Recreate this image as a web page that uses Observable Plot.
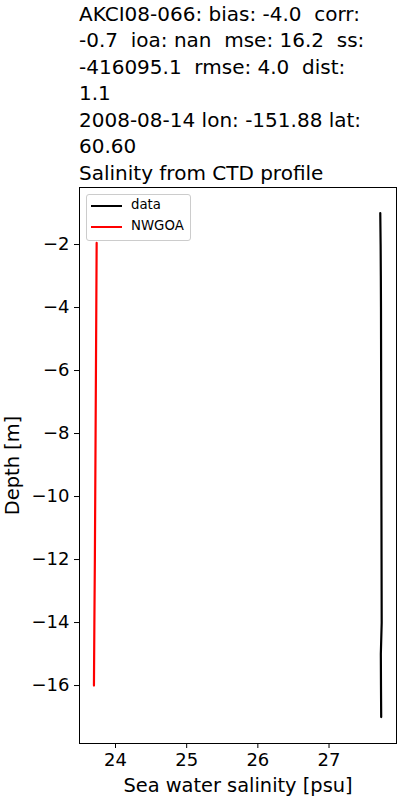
<!DOCTYPE html>
<html>
<head>
<meta charset="utf-8">
<script src="https://cdn.jsdelivr.net/npm/d3@7"></script>
<script src="https://cdn.jsdelivr.net/npm/@observablehq/plot@0.6"></script>
<style>
  html, body { margin: 0; padding: 0; background: #fff; }
  body { width: 400px; height: 800px; position: relative; overflow: hidden; font-family: "DejaVu Sans", sans-serif; }
  #title { position: absolute; left: 79px; top: 0.5px; font-size: 20px; line-height: 26.5px; white-space: pre; color: #000; z-index: 2; }
  #chart { position: absolute; left: 0; top: 177px; z-index: 1; }
  #legend { position: absolute; left: 86px; top: 194px; width: 105px; height: 47px; border: 1px solid #cccccc; border-radius: 3px; background: rgba(255,255,255,0.8); box-sizing: border-box; font-size: 13.3px; z-index: 3; }
  .row { position: absolute; left: 0; height: 16px; }
  .swatch { position: absolute; left: 4px; width: 31px; height: 2px; top: 7px; }
  .lbl { position: absolute; left: 44px; top: -1px; white-space: pre; }
</style>
</head>
<body>
<div id="title"></div>
<div id="chart"></div>
<div id="legend"></div>
<script>
// ---- data ----
const titleLines = [
  "AKCI08-066: bias: -4.0  corr:",
  "-0.7  ioa: nan  mse: 16.2  ss:",
  "-416095.1  rmse: 4.0  dist:",
  "1.1",
  "2008-08-14 lon: -151.88 lat:",
  "60.60",
  "Salinity from CTD profile"
];
const dataDepth = [-1, -2, -3, -4, -5, -6, -7, -8, -9, -10, -11, -12, -13, -14, -15, -16, -17];
const dataSal   = [27.720, 27.725, 27.728, 27.730, 27.731, 27.732, 27.733, 27.734, 27.735, 27.736, 27.737, 27.738, 27.739, 27.740, 27.728, 27.730, 27.733];
const modelDepth = [-1.95, -4, -6, -8, -10, -12, -14, -16];
const modelSal   = [23.735, 23.730, 23.725, 23.720, 23.715, 23.710, 23.703, 23.697];
const xTicks = [24, 25, 26, 27];
const yTicks = [-16, -14, -12, -10, -8, -6, -4, -2];
const seriesNames = ["data", "NWGOA"];
const seriesColors = ["#000000", "#ff0000"];

document.getElementById("title").textContent = titleLines.join("\n");

const obs = dataDepth.map((d, i) => ({depth: d, sal: dataSal[i]}));
const mod = modelDepth.map((d, i) => ({depth: d, sal: modelSal[i]}));

const plot = Plot.plot({
  width: 400,
  height: 623,
  marginTop: 10,
  marginBottom: 57,
  marginLeft: 79,
  marginRight: 4,
  style: { fontFamily: "DejaVu Sans", color: "#000", background: "transparent", overflow: "visible" },
  x: { domain: [23.494, 27.948] },
  y: { domain: [-17.84, -0.19] },
  marks: [
    Plot.line(obs, {x: "sal", y: "depth", stroke: seriesColors[0], strokeWidth: 2.2}),
    Plot.line(mod, {x: "sal", y: "depth", stroke: seriesColors[1], strokeWidth: 2.2}),
    Plot.frame({stroke: "#000", strokeWidth: 1}),
    Plot.axisX({ticks: xTicks, tickSize: 5, tickPadding: 5, fontSize: 18, label: null, tickFormat: d => String(d)}),
    Plot.axisX({ticks: [], tickSize: 0, fontSize: 19.4, label: "Sea water salinity [psu]", labelAnchor: "center", labelArrow: "none", labelOffset: 48}),
    Plot.axisY({ticks: yTicks, tickSize: 5, tickPadding: 5, fontSize: 18, label: null, tickFormat: d => (d < 0 ? "\u2212" + Math.abs(d) : String(d))}),
    Plot.axisY({ticks: [], tickSize: 0, fontSize: 19.4, label: "Depth [m]", labelAnchor: "center", labelArrow: "none", labelOffset: 74})
  ]
});
document.getElementById("chart").appendChild(plot);

const leg = document.getElementById("legend");
seriesNames.forEach((name, i) => {
  const row = document.createElement("div");
  row.className = "row";
  row.style.top = (3 + i * 21) + "px";
  row.style.width = "100%";
  const sw = document.createElement("div");
  sw.className = "swatch";
  sw.style.background = seriesColors[i];
  const lb = document.createElement("div");
  lb.className = "lbl";
  lb.textContent = name;
  row.appendChild(sw);
  row.appendChild(lb);
  leg.appendChild(row);
});
</script>
</body>
</html>
